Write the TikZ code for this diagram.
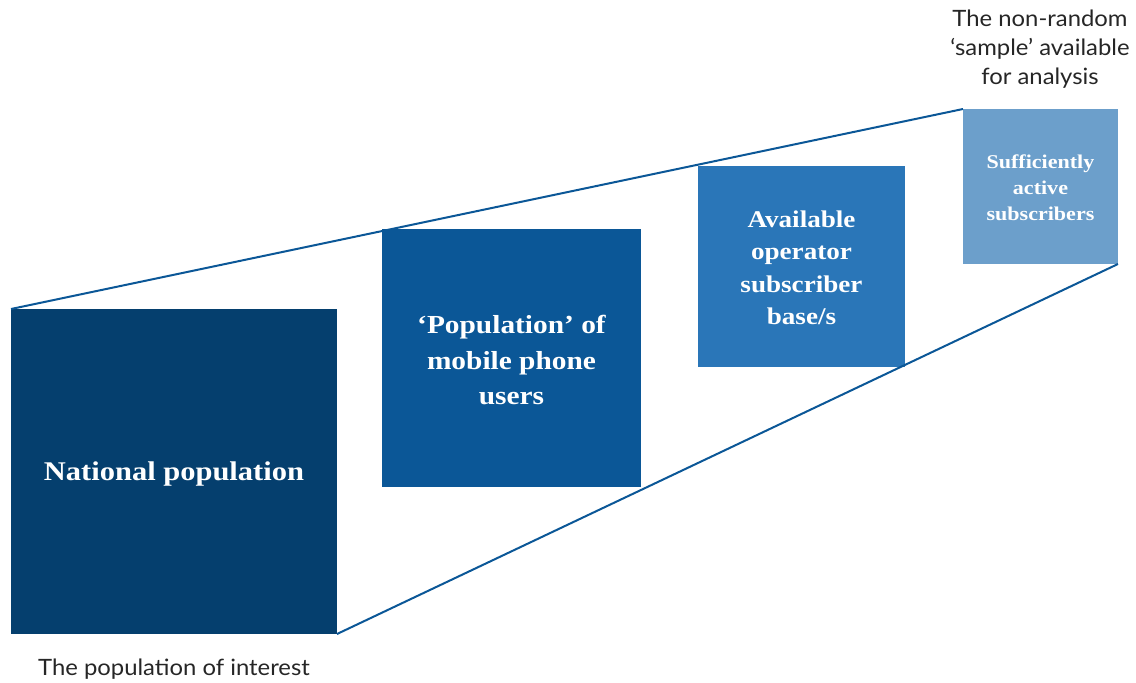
\documentclass[tikz,border=0pt]{standalone}
\usepackage{fontspec}
\setmainfont{Liberation Serif}[FakeStretch=1.13]
\newfontfamily\labelfont{Lato}[FakeStretch=1.06]
\definecolor{c1}{HTML}{053F6E}
\definecolor{c2}{HTML}{0B5797}
\definecolor{c3}{HTML}{2A76B8}
\definecolor{c4}{HTML}{6C9FCB}
\definecolor{linec}{HTML}{0B5797}
\definecolor{labc}{HTML}{262626}
\begin{document}
\begin{tikzpicture}[x=1pt,y=-1pt,
  box/.style={draw=none,inner sep=0pt,text=white,align=center,font=\bfseries},
  lab/.style={text=labc,align=center,font=\labelfont\fontsize{22.5}{29}\selectfont},
  edge/.style={draw=linec,line width=2pt}]
\useasboundingbox (0,0) rectangle (1136,683);
\fill[c1] (11,309) rectangle (337,634);
\fill[c2] (382,229) rectangle (641,487);
\fill[c3] (698,166) rectangle (905,367);
\fill[c4] (963,109) rectangle (1118,264);
\coordinate (a1) at (11,309);
\coordinate (a2) at (963,109);
\coordinate (b1) at (337,634);
\coordinate (b2) at (1118,264);
\draw[edge] (a1) -- (a2);
\draw[edge] (b1) -- (b2);
\node[box,font=\bfseries\fontsize{27}{35}\selectfont] (n1) at (174,474) {National population};
\node[box,font=\bfseries\fontsize{26}{35.5}\selectfont] (n2) at (511.5,360) {‘Population’ of\\mobile phone\\users};
\node[box,font=\bfseries\fontsize{24}{32.5}\selectfont] (n3) at (801.5,268) {Available\\operator\\subscriber\\base/s};
\node[box,font=\bfseries\fontsize{19.5}{26}\selectfont] (n4) at (1040.5,188) {Sufficiently\\active\\subscribers};
\node[lab] (l1) at (174,669) {The population of interest};
\node[lab] (l2) at (1040,49) {The non-random\\‘sample’ available\\for analysis};
\end{tikzpicture}
\end{document}
